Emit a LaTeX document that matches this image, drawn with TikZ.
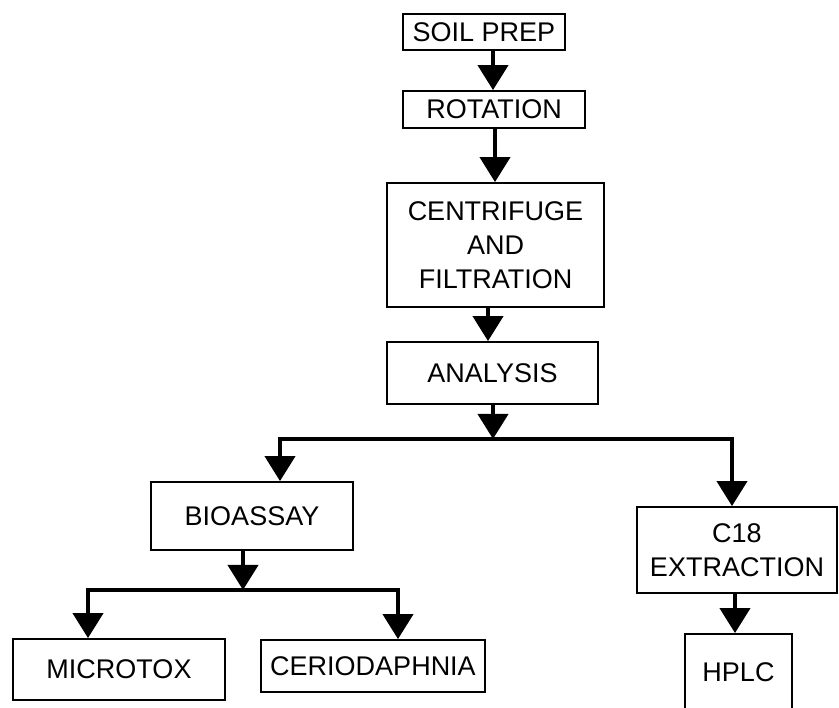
\documentclass[tikz,border=0pt]{standalone}
\usepackage{fontspec}
\setmainfont{Liberation Sans}
\usetikzlibrary{arrows.meta}
\begin{document}
\begin{tikzpicture}[x=1pt,y=-1pt,
  box/.style={draw, line width=1.8pt, inner sep=0pt, align=center, font=\fontsize{27}{34}\selectfont},
  head/.tip={Triangle[width=30pt,length=25pt]},
  arr/.style={line width=4pt, -head},
  arrtwo/.style={line width=4pt, head-head, line join=miter}]
\useasboundingbox (0,0) rectangle (839,708);
\fill[white] (0,0) rectangle (839,708);

\node[box, minimum width=162pt, minimum height=36pt] (soil) at (484,32) {SOIL PREP};
\node[box, minimum width=182pt, minimum height=37pt] (rot) at (494,109.5) {ROTATION};
\node[box, minimum width=217pt, minimum height=124pt] (cent) at (495.5,245) {CENTRIFUGE\\AND\\FILTRATION};
\node[box, minimum width=211pt, minimum height=62pt] (ana) at (492.5,373) {ANALYSIS};
\node[box, minimum width=202pt, minimum height=68pt] (bio) at (252,516) {BIOASSAY};
\node[box, minimum width=200pt, minimum height=86pt] (c18) at (737,550) {C18\\EXTRACTION};
\node[box, minimum width=107pt, minimum height=76pt] (hplc) at (738.5,672) {HPLC};
\node[box, minimum width=212pt, minimum height=61pt] (micro) at (119,669.5) {MICROTOX};
\node[box, minimum width=224pt, minimum height=52pt] (cerio) at (373,666) {CERIODAPHNIA};

\coordinate (c1) at (493,0);
\coordinate (c2) at (495,0);
\coordinate (c3) at (488,0);
\coordinate (c4) at (493,0);
\coordinate (jl) at (280,439);
\coordinate (jr) at (732,439);
\coordinate (c5) at (243,0);
\coordinate (kl) at (88,590);
\coordinate (kr) at (398,590);
\coordinate (c6) at (735,0);

\draw[arr] (soil.south -| c1) -- (rot.north -| c1);
\draw[arr] (rot.south -| c2) -- (cent.north -| c2);
\draw[arr] (cent.south -| c3) -- (ana.north -| c3);
\draw[arr] (ana.south -| c4) -- (c4 |- jl);
\draw[arrtwo] (jl |- bio.north) -- (jl) -- (jr) -- (jr |- c18.north);
\draw[arr] (bio.south -| c5) -- (c5 |- kl);
\draw[arrtwo] (kl |- micro.north) -- (kl) -- (kr) -- (kr |- cerio.north);
\draw[arr] (c18.south -| c6) -- (hplc.north -| c6);
\end{tikzpicture}
\end{document}
